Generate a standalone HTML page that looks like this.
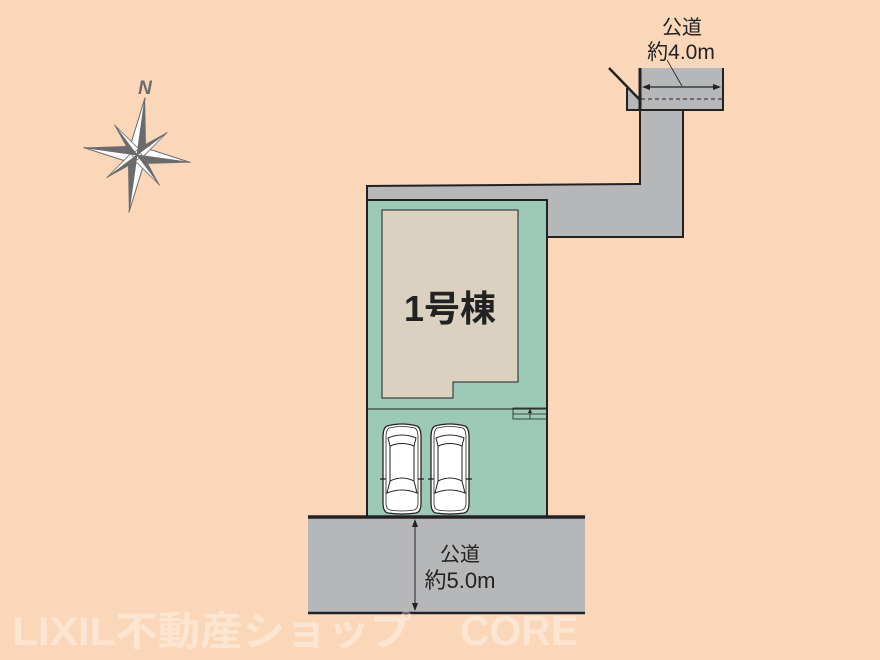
<!DOCTYPE html>
<html><head><meta charset="utf-8"><style>
html,body{margin:0;padding:0;background:#fbd7b9;}
svg{display:block}
</style></head><body>
<svg width="880" height="660" viewBox="0 0 880 660" xmlns="http://www.w3.org/2000/svg">
<defs>
<g id="car">
  <path d="M4,3 Q19,-1 34,3 Q38,5 38,14 L38,80 Q38,89 33,90 Q19,92 5,90 Q0,89 0,80 L0,14 Q0,5 4,3 Z" fill="#fff" stroke="#222" stroke-width="1.3"/>
  <path d="M6,5 Q19,2 32,5 Q35,7 35,14 L35,80 Q35,86 31,87 Q19,89 7,87 Q3,86 3,80 L3,14 Q3,7 6,5 Z" fill="none" stroke="#222" stroke-width="0.8"/>
  <path d="M7,23 Q19,18 31,23 L33,15 Q19,9 5,15 Z" fill="none" stroke="#222" stroke-width="1"/>
  <path d="M7,23 L7,58 M31,23 L31,58" stroke="#222" stroke-width="1"/>
  <path d="M7,58 Q19,52 31,58 L34,70 Q19,64 4,70 Z" fill="none" stroke="#222" stroke-width="1"/>
  <path d="M-3,56 L3,56 M35,56 L41,56" stroke="#222" stroke-width="1.2"/>
</g>
</defs>
<rect width="880" height="660" fill="#fbd7b9"/>

<!-- compass -->
<g transform="translate(137,155)">
  <g transform="rotate(8)">
    <polygon points="0,0 0,-58 -8,-8" fill="#fff" stroke="#6b6b6d" stroke-width="1"/>
    <polygon points="0,0 0,-58 8,-8" fill="#6b6b6d"/>
    <polygon points="0,0 0,58 8,8" fill="#fff" stroke="#6b6b6d" stroke-width="1"/>
    <polygon points="0,0 0,58 -8,8" fill="#6b6b6d"/>
    <polygon points="0,0 -54,0 -8,8" fill="#fff" stroke="#6b6b6d" stroke-width="1"/>
    <polygon points="0,0 -54,0 -8,-8" fill="#6b6b6d"/>
    <polygon points="0,0 54,0 8,-8" fill="#fff" stroke="#6b6b6d" stroke-width="1"/>
    <polygon points="0,0 54,0 8,8" fill="#6b6b6d"/>
    <g transform="rotate(45)">
      <polygon points="0,-4 0,-38 -5,-4" fill="#6b6b6d"/>
      <polygon points="0,-4 0,-38 5,-4" fill="#fff" stroke="#6b6b6d" stroke-width="0.8"/>
      <polygon points="0,4 0,38 5,4" fill="#6b6b6d"/>
      <polygon points="0,4 0,38 -5,4" fill="#fff" stroke="#6b6b6d" stroke-width="0.8"/>
      <polygon points="-4,0 -38,0 -4,5" fill="#6b6b6d"/>
      <polygon points="-4,0 -38,0 -4,-5" fill="#fff" stroke="#6b6b6d" stroke-width="0.8"/>
      <polygon points="4,0 38,0 4,-5" fill="#6b6b6d"/>
      <polygon points="4,0 38,0 4,5" fill="#fff" stroke="#6b6b6d" stroke-width="0.8"/>
    </g>
  </g>
</g>
<text x="145" y="94" font-family="Liberation Sans, sans-serif" font-size="19" font-weight="bold" font-style="italic" fill="#6b6b6d" text-anchor="middle">N</text>

<!-- top road -->
<rect x="627" y="68" width="96" height="42" fill="#b6b7b9"/>
<polygon points="609,68 640,68 640,100" fill="#fbd7b9"/>
<path d="M627,88 L627,110 L723,110 L723,68" fill="none" stroke="#222" stroke-width="2"/>
<line x1="609" y1="68" x2="640" y2="100" stroke="#222" stroke-width="2.5"/>
<line x1="640" y1="68" x2="640" y2="110" stroke="#222" stroke-width="3"/>
<line x1="641" y1="99" x2="722" y2="99" stroke="#222" stroke-width="1" stroke-dasharray="4,3"/>
<line x1="644" y1="87" x2="719" y2="87" stroke="#222" stroke-width="1.2"/>
<polygon points="642,87 650,84 650,90" fill="#222"/>
<polygon points="721,87 713,84 713,90" fill="#222"/>
<line x1="667" y1="60" x2="682" y2="86" stroke="#222" stroke-width="0.8"/>
<text x="682" y="34" font-family="Liberation Sans, 'Noto Sans CJK JP', sans-serif" font-size="20" fill="#222" text-anchor="middle">公道</text>
<text x="681" y="59" font-family="Liberation Sans, 'Noto Sans CJK JP', sans-serif" font-size="21" fill="#222" text-anchor="middle">約4.0m</text>

<!-- flag pole -->
<polygon points="367,186 640,184 640,110 683,110 683,237 547,237 547,200 367,200" fill="#b6b7b9" stroke="#222" stroke-width="2"/>
<!-- lot -->
<rect x="367" y="200" width="180" height="317" fill="#9ccab7" stroke="#222" stroke-width="2"/>
<!-- house -->
<polygon points="382,210 518,210 518,382 453,382 453,398 382,398" fill="#dbd1c1" stroke="#222" stroke-width="1"/>
<text x="450" y="321" font-family="Liberation Sans, 'Noto Sans CJK JP', sans-serif" font-size="36" font-weight="bold" fill="#222" text-anchor="middle">1号棟</text>
<line x1="367" y1="409" x2="547" y2="409" stroke="#222" stroke-width="1"/>
<!-- steps -->
<rect x="513" y="408" width="34" height="11" fill="none" stroke="#222" stroke-width="0.8"/>
<line x1="513" y1="414" x2="547" y2="414" stroke="#222" stroke-width="0.8"/>
<line x1="530" y1="408" x2="530" y2="419" stroke="#222" stroke-width="0.8"/>
<polygon points="530,409 528,413 532,413" fill="#222"/>
<!-- cars -->
<use href="#car" x="383" y="423"/>
<use href="#car" x="431" y="423"/>

<!-- bottom road -->
<rect x="308" y="517" width="277" height="96" fill="#b6b7b9"/>
<line x1="308" y1="517" x2="585" y2="517" stroke="#222" stroke-width="3.5"/>
<line x1="308" y1="613" x2="585" y2="613" stroke="#222" stroke-width="2.5"/>
<line x1="415" y1="521" x2="415" y2="609" stroke="#222" stroke-width="1"/>
<polygon points="415,519 412,527 418,527" fill="#222"/>
<polygon points="415,611 412,603 418,603" fill="#222"/>
<text x="460" y="561" font-family="Liberation Sans, 'Noto Sans CJK JP', sans-serif" font-size="20" fill="#222" text-anchor="middle">公道</text>
<text x="460" y="588" font-family="Liberation Sans, 'Noto Sans CJK JP', sans-serif" font-size="22" fill="#222" text-anchor="middle">約5.0m</text>

<!-- watermark -->
<text x="12" y="645" font-family="Liberation Sans, 'Noto Sans CJK JP', sans-serif" font-size="40" font-weight="bold" fill="#ffffff" fill-opacity="0.35" textLength="400" lengthAdjust="spacingAndGlyphs">LIXIL不動産ショップ</text>
<text x="460" y="645" font-family="Liberation Sans, sans-serif" font-size="42" font-weight="bold" fill="#ffffff" fill-opacity="0.35" textLength="118" lengthAdjust="spacingAndGlyphs">CORE</text>
</svg>
</body></html>
